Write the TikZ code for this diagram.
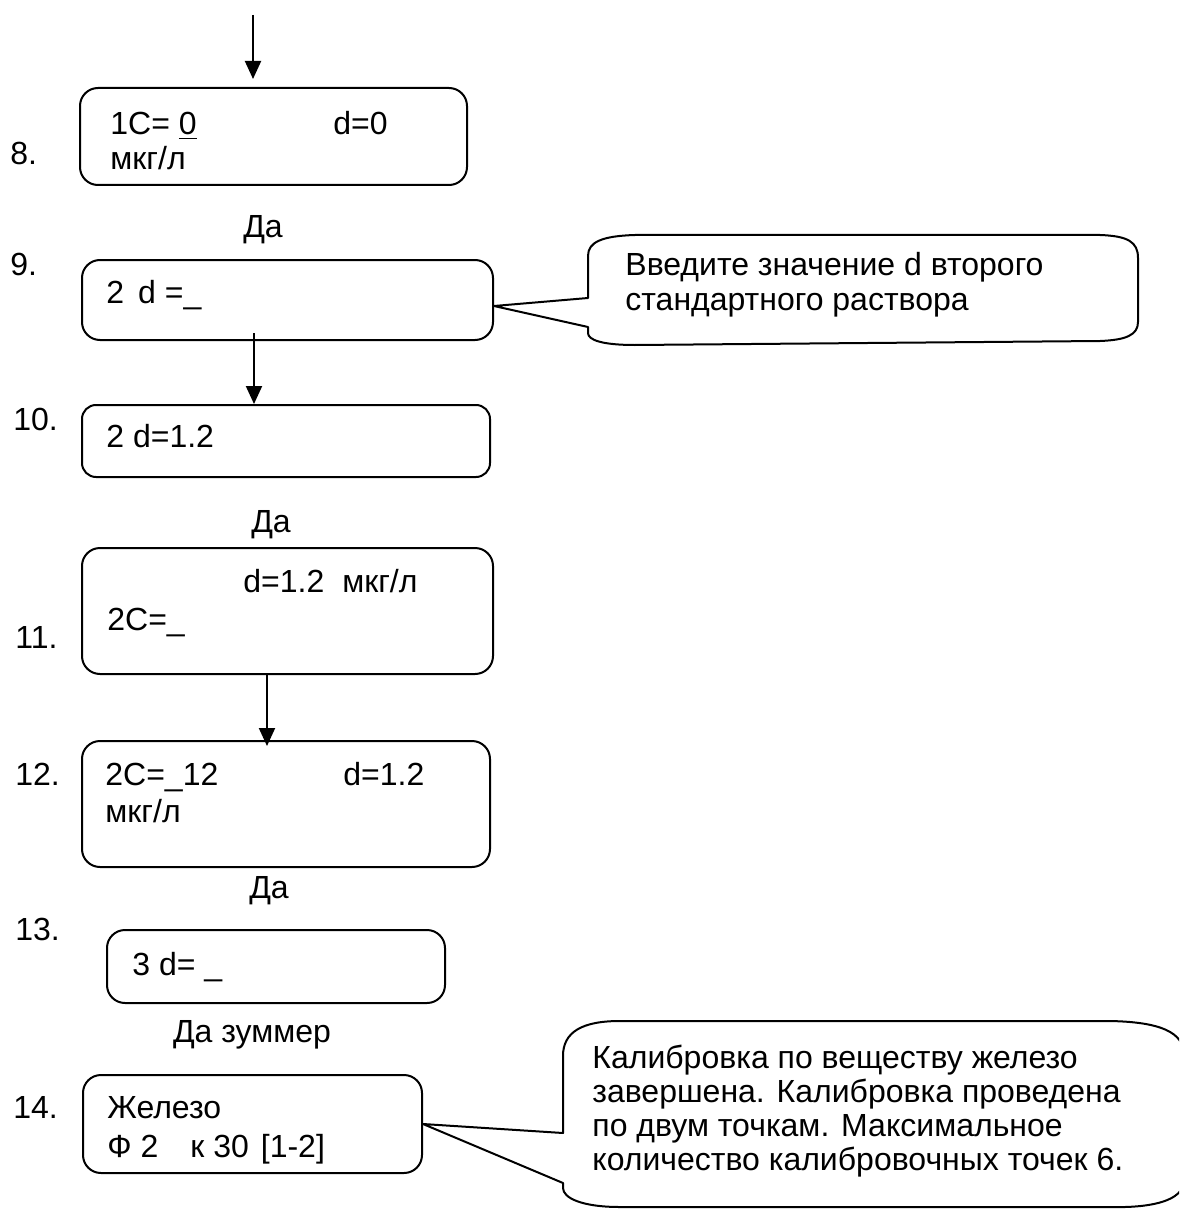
\documentclass[tikz,border=0pt]{standalone}
\usepackage{fontspec}
\setmainfont{Liberation Sans}
\usetikzlibrary{arrows.meta,calc}
\begin{document}
\begin{tikzpicture}[x=0.5pt,y=-0.5pt,
  box/.style={draw, line width=1pt, rounded corners=9pt, inner sep=0pt},
  txt/.style={inner sep=0pt, anchor=base west, font=\fontsize{16pt}{17.5pt}\selectfont},
  ctr/.style={inner sep=0pt, anchor=base, font=\fontsize{16pt}{17.5pt}\selectfont},
  arr/.style={line width=1pt, -{Triangle[width=8pt,length=9pt]}},
  callout/.style={draw, line width=1pt, line join=round}]
\useasboundingbox (0,0) rectangle (1179,1209);
\clip (0,0) rectangle (1179,1209);

% boxes
\node[box, minimum width=193.5pt, minimum height=48.5pt] (b8) at (273.5,136.5) {};
\node[box, minimum width=205.5pt, minimum height=40pt] (b9) at (287.5,300) {};
\node[box, rounded corners=7pt, minimum width=204pt, minimum height=36pt] (b10) at (286,441) {};
\node[box, minimum width=205.5pt, minimum height=63pt] (b11) at (287.5,611) {};
\node[box, minimum width=204pt, minimum height=63pt] (b12) at (286,804) {};
\node[box, minimum width=169pt, minimum height=36.5pt] (b13) at (276,966.5) {};
\node[box, minimum width=169.5pt, minimum height=49pt] (b14) at (252.5,1124) {};

% step labels
\node[txt] (l8) at (10,165) {8.};
\node[txt] (l9) at (10,276) {9.};
\node[txt] (l10) at (13,430) {10.};
\node[txt] (l11) at (15,648) {11.};
\node[txt] (l12) at (15,785) {12.};
\node[txt] (l13) at (15,940) {13.};
\node[txt] (l14) at (13,1118) {14.};

% texts in boxes
\node[txt] (t8a) at (110,135) {1C= \underline{0}};
\node[txt] (t8b) at (333,135) {d=0};
\node[txt] (t8c) at (110,170) {мкг/л};
\node[txt] (t9) at (106,303) {2\hspace{7pt}d =\_};
\node[txt] (t10) at (106,447) {2 d=1.2};
\node[txt] (t11a) at (243,592) {d=1.2\hspace{4.5pt} мкг/л};
\node[txt] (t11b) at (107,630) {2C=\_};
\node[txt] (t12a) at (105,785) {2C=\_12};
\node[txt] (t12b) at (343,785) {d=1.2};
\node[txt] (t12c) at (105,822) {мкг/л};
\node[txt] (t13) at (132,975) {3 d= \_};
\node[txt] (t14a) at (107,1118) {Железо};
\node[txt] (t14b) at (107,1157) {Ф 2\hspace{16pt}к 30\hspace{6pt}[1-2]};

% Да labels
\node[ctr] (y1) at (263,238) {Да};
\node[ctr] (y2) at (271,532) {Да};
\node[ctr] (y3) at (269,898) {Да};
\node[ctr] (y4) at (252,1042) {Да зуммер};

% arrows
\coordinate (start) at (253,15);
\draw[arr] (start) -- ($(start |- b8.north)+(0,-8)$);
\draw[arr] ($(b9.south)+(-33.5,-8)$) -- ($(b10.north)+(-32,0)$);
\draw[arr] ($(b11.south)+(-20.5,0)$) -- ($(b12.north)+(-19,6)$);

% callout 9
\coordinate (p9) at ($(b9.east)+(0,6)$);
\draw[callout] (p9) -- (588,298) -- (588,256)
  .. controls (588,242) and (602,236) .. (635,235) -- (1100,235)
  .. controls (1128,236) and (1138,242) .. (1138,258) -- (1138,322)
  .. controls (1138,335) and (1126,340) .. (1100,341) -- (635,345)
  .. controls (602,345) and (588,340) .. (588,333) -- (588,327) -- cycle;
\node[txt] (c9a) at (625,275) {Введите значение d второго};
\node[txt] (c9b) at (625,310) {стандартного раствора};

% callout 14
\coordinate (p14) at (b14.east);
\draw[callout] (p14) -- (563,1133) -- (563,1056)
  .. controls (563,1032) and (582,1021) .. (620,1021) -- (1110,1021)
  .. controls (1160,1022) and (1184,1032) .. (1184,1055) -- (1184,1180)
  .. controls (1184,1198) and (1160,1206) .. (1125,1207) -- (620,1207)
  .. controls (582,1207) and (563,1198) .. (563,1188) -- (563,1183) -- cycle;
\node[txt] (c14a) at (592,1068) {Калибровка по веществу железо};
\node[txt] (c14b) at (592,1102) {завершена. Калибровка проведена};
\node[txt] (c14c) at (592,1136) {по двум точкам. Максимальное};
\node[txt] (c14d) at (592,1170) {количество калибровочных точек 6.};
\end{tikzpicture}
\end{document}
